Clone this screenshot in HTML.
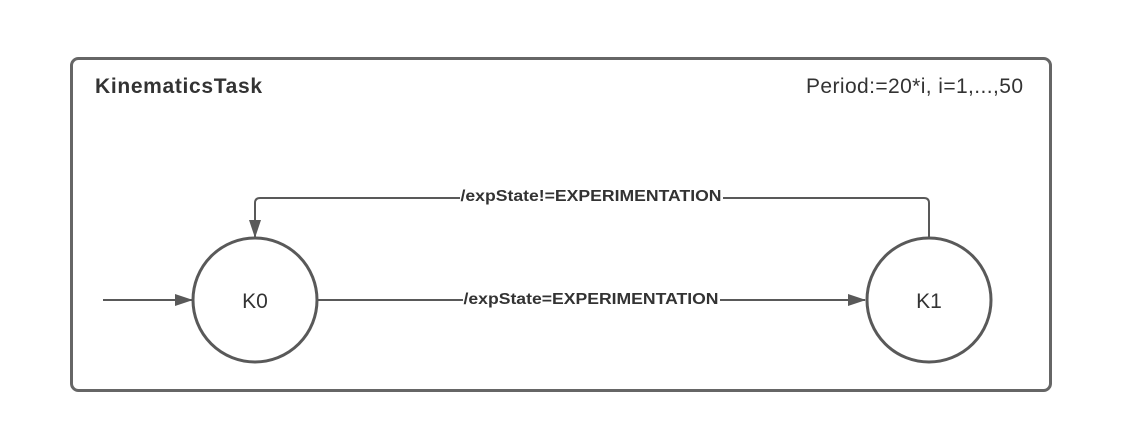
<!DOCTYPE html>
<html><head><meta charset="utf-8"><style>html,body{margin:0;padding:0;background:#fff}svg{display:block}</style></head>
<body>
<svg width="1138" height="432" viewBox="0 0 1138 432" xmlns="http://www.w3.org/2000/svg" font-family="Liberation Sans, Arial, sans-serif">
<defs><marker id="a" markerWidth="18" markerHeight="12" refX="17" refY="6" orient="auto" markerUnits="userSpaceOnUse"><path d="M0,0 L18,6 L0,12 z" fill="#595959"/></marker></defs>
<rect x="71.5" y="58.5" width="979" height="332" rx="7" fill="#fff" stroke="#666" stroke-width="3"/>
<text x="95" y="93" font-size="21" font-weight="bold" fill="#333" textLength="167">KinematicsTask</text>
<text x="1023" y="93" font-size="21" fill="#333" text-anchor="end" textLength="217">Period:=20*i, i=1,...,50</text>
<circle cx="255" cy="300" r="62" fill="#fff" stroke="#595959" stroke-width="3"/>
<circle cx="929" cy="300" r="62" fill="#fff" stroke="#595959" stroke-width="3"/>
<text x="255" y="308" font-size="21" fill="#333" text-anchor="middle">K0</text>
<text x="929" y="308" font-size="21" fill="#333" text-anchor="middle">K1</text>
<line x1="103" y1="300" x2="192" y2="300" stroke="#595959" stroke-width="2" marker-end="url(#a)"/>
<line x1="318" y1="300" x2="865" y2="300" stroke="#595959" stroke-width="2" marker-end="url(#a)"/>
<path d="M929,238 V203 Q929,198 924,198 H260 Q255,198 255,203 V237" fill="none" stroke="#595959" stroke-width="2" marker-end="url(#a)"/>
<rect x="460" y="186" width="263" height="20" fill="#fff"/>
<rect x="463" y="289" width="257" height="20" fill="#fff"/>
<text x="591" y="201" font-size="16" font-weight="bold" fill="#333" text-anchor="middle" textLength="261" lengthAdjust="spacingAndGlyphs">/expState!=EXPERIMENTATION</text>
<text x="591" y="304" font-size="16" font-weight="bold" fill="#333" text-anchor="middle" textLength="255" lengthAdjust="spacingAndGlyphs">/expState=EXPERIMENTATION</text>
</svg>
</body></html>
